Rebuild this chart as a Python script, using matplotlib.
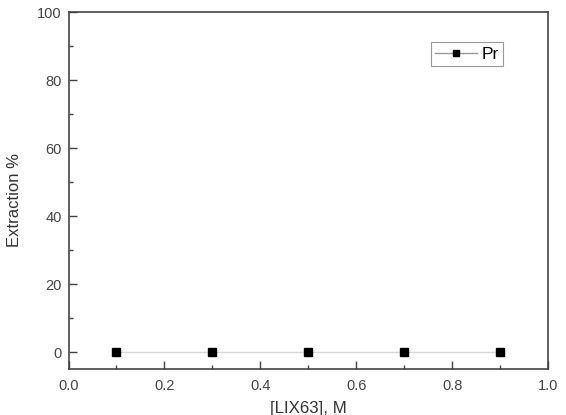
import matplotlib
matplotlib.use("Agg")
import matplotlib.pyplot as plt
from matplotlib.ticker import MultipleLocator
from matplotlib.lines import Line2D

# datos
lix63 = [0.1, 0.3, 0.5, 0.7, 0.9]
extraccion_pr = [0, 0, 0, 0, 0]

plt.rcParams['font.family'] = ['Liberation Sans', 'DejaVu Sans']

fig = plt.figure(figsize=(5.66, 4.15), dpi=100)
ax = fig.add_axes([68.5 / 566, 1 - 369 / 415, (548 - 68.5) / 566, (369 - 12) / 415])

ax.plot(lix63, extraccion_pr, '-', color='#d8d8d8', lw=1, zorder=1)
ax.plot(lix63, extraccion_pr, 's', color='black', ms=6, zorder=2)
# entrada de leyenda: linea gris con marcador negro
h = Line2D([], [], color='#999999', lw=1, marker='s', ms=5,
           mfc='black', mec='black')

ax.set_xlim(0, 1.0)
ax.set_ylim(-5, 100)
ax.xaxis.set_major_locator(MultipleLocator(0.2))
ax.xaxis.set_minor_locator(MultipleLocator(0.1))
ax.yaxis.set_major_locator(MultipleLocator(20))
ax.yaxis.set_minor_locator(MultipleLocator(10))
ax.tick_params(which='both', direction='in', top=False, right=False,
               colors='#444444', labelsize=10.5, width=1)
ax.tick_params(which='major', length=6)
ax.tick_params(which='minor', length=3)
ax.tick_params(axis='x', pad=7)
ax.tick_params(axis='y', pad=5)
ax.xaxis.set_major_formatter(plt.FuncFormatter(lambda v, p: f'{v:.1f}'))
for s in ax.spines.values():
    s.set_color('#444444')
    s.set_linewidth(1.2)

ax.set_xlabel('[LIX63], M', fontsize=12.2, color='#333333', labelpad=6)
ax.set_ylabel('Extraction %', fontsize=12, color='#333333', labelpad=12)
ax.yaxis.set_label_coords(-0.098, 0.473)

leg = ax.legend([h], ['Pr'], loc='upper left', bbox_to_anchor=(0.755, 0.915),
                fontsize=12.5, fancybox=False, framealpha=1, borderpad=0.25,
                handlelength=2.4, handletextpad=0.3, borderaxespad=0)
leg.get_frame().set_edgecolor('#999999')
leg.get_frame().set_linewidth(0.8)

fig.savefig('out.png', dpi=100)
